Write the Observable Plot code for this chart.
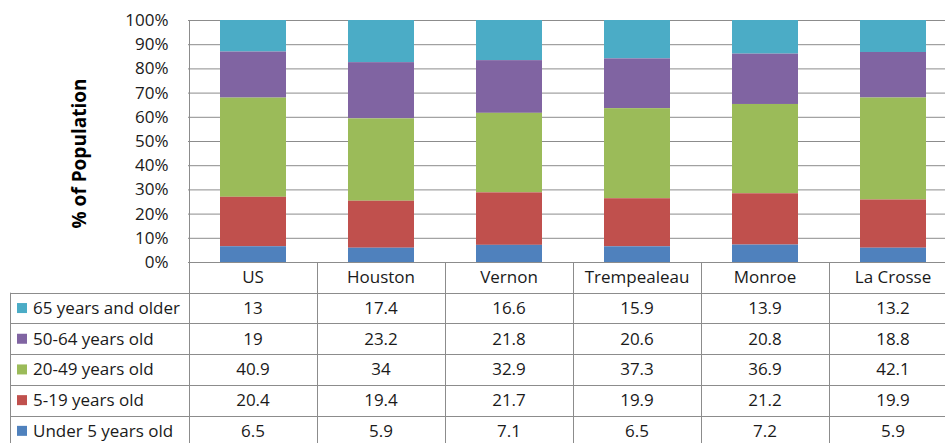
<!DOCTYPE html>
<html>
<head>
<meta charset="utf-8">
<script src="https://cdn.jsdelivr.net/npm/d3@7"></script>
<script src="https://cdn.jsdelivr.net/npm/@observablehq/plot@0.6"></script>
<style>
  html, body { margin: 0; padding: 0; background: #fff; }
  #wrap { width: 945px; height: 443px; overflow: hidden; position: relative; }
  #wrap svg { max-width: none !important; display: block; }
</style>
</head>
<body>
<div id="wrap"></div>
<script>
const categories = ["US", "Houston", "Vernon", "Trempealeau", "Monroe", "La Crosse"];
const series = ["65 years and older", "50-64 years old", "20-49 years old", "5-19 years old", "Under 5 years old"];
const colors = ["#4BACC6", "#8064A2", "#9BBB59", "#C0504D", "#4F81BD"];
const age65plus = [13, 17.4, 16.6, 15.9, 13.9, 13.2];
const age50to64 = [19, 23.2, 21.8, 20.6, 20.8, 18.8];
const age20to49 = [40.9, 34, 32.9, 37.3, 36.9, 42.1];
const age5to19 = [20.4, 19.4, 21.7, 19.9, 21.2, 19.9];
const ageUnder5 = [6.5, 5.9, 7.1, 6.5, 7.2, 5.9];
const yTicks = [0, 0.1, 0.2, 0.3, 0.4, 0.5, 0.6, 0.7, 0.8, 0.9, 1];

const seriesValues = [age65plus, age50to64, age20to49, age5to19, ageUnder5];
const data = [];
series.forEach((s, i) => categories.forEach((c, j) => data.push({category: c, group: s, value: seriesValues[i][j]})));

const W = 957, H = 443, mTop = 20, mBottom = 181, mLeft = 188;
const gridColor = "#8c8c8c";
const textColor = "#1a1a1a";
const font = "'Open Sans', Lato, sans-serif";
const fs = 17;

const plot = Plot.plot({
  width: W,
  height: H,
  marginTop: mTop,
  marginBottom: mBottom,
  marginLeft: mLeft,
  marginRight: 0,
  style: {fontFamily: font, fontSize: fs + "px", color: textColor, background: "#fff", maxWidth: "none"},
  x: {domain: categories, paddingInner: 0.485, paddingOuter: 0.2425, axis: null},
  y: {domain: [0, 1], axis: null},
  color: {domain: series, range: colors},
  marks: [
    Plot.ruleY(yTicks, {stroke: gridColor, strokeWidth: 1}),
    Plot.barY(data, Plot.stackY({
      x: "category",
      y: "value",
      fill: "group",
      order: series.slice().reverse(),
      offset: "normalize"
    })),
    Plot.axisY({ticks: yTicks, tickFormat: d3.format(".0%"), tickSize: 0, tickPadding: 20, fontSize: fs, fill: textColor, label: null}),
    Plot.text(["% of Population"], {frameAnchor: "left", textAnchor: "middle", dx: -109, dy: 12, rotate: -90, fontWeight: "bold", fontSize: 19, fill: "#000"})
  ]
});

// Table below the plot area, aligned with the plot's x scale
const svg = d3.select(plot);
const xs = plot.scale("x");
const bw = xs.bandwidth;
const step = xs.step;
const colLeft = c => xs.apply(c) - (step - bw) / 2;
const xLeftPlot = colLeft(categories[0]);
const xRight = colLeft(categories[categories.length - 1]) + step;
const top0 = H - mBottom;
const rowH = 30.7;
const legendLeft = 10;
const g = svg.append("g").attr("class", "table").attr("text-anchor", "start");

// plot frame: left axis line
g.append("line").attr("x1", Math.round(xLeftPlot) + 0.5).attr("x2", Math.round(xLeftPlot) + 0.5).attr("y1", mTop).attr("y2", top0)
  .attr("stroke", gridColor);

// vertical column lines
const bounds = categories.map(colLeft).concat([xRight]);
bounds.forEach(b => {
  g.append("line").attr("x1", Math.round(b) + 0.5).attr("x2", Math.round(b) + 0.5)
    .attr("y1", top0).attr("y2", H).attr("stroke", gridColor);
});
// legend column left line
g.append("line").attr("x1", legendLeft + 0.5).attr("x2", legendLeft + 0.5)
  .attr("y1", top0 + rowH).attr("y2", H).attr("stroke", gridColor);
// horizontal lines
for (let i = 1; i <= series.length; i++) {
  const y = Math.round(top0 + rowH * i) + 0.5;
  g.append("line").attr("x1", legendLeft).attr("x2", xRight).attr("y1", y).attr("y2", y).attr("stroke", gridColor);
}
// header
categories.forEach(c => {
  g.append("text").attr("x", xs.apply(c) + bw / 2).attr("y", top0 + rowH / 2)
    .attr("text-anchor", "middle").attr("dy", "0.35em").attr("font-size", fs).attr("fill", textColor).text(c);
});
// rows
series.forEach((s, i) => {
  const yc = top0 + rowH * (i + 1) + rowH / 2;
  g.append("rect").attr("x", 17).attr("y", yc - 5).attr("width", 10).attr("height", 10).attr("fill", colors[i]);
  g.append("text").attr("x", 33).attr("y", yc).attr("dy", "0.35em").attr("text-anchor", "start")
    .attr("font-size", fs).attr("fill", textColor).text(s);
  categories.forEach((c, j) => {
    g.append("text").attr("x", xs.apply(c) + bw / 2).attr("y", yc)
      .attr("text-anchor", "middle").attr("dy", "0.35em").attr("font-size", fs).attr("fill", textColor)
      .text(seriesValues[i][j]);
  });
});

document.getElementById("wrap").appendChild(plot);
</script>
</body>
</html>
